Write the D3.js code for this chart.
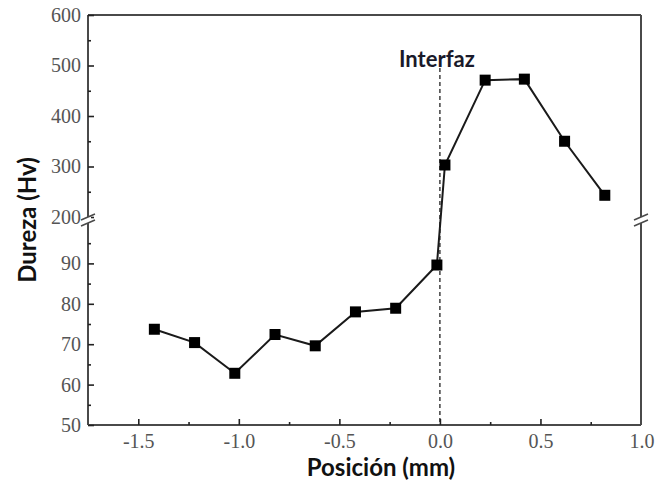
<!DOCTYPE html>
<html><head><meta charset="utf-8">
<script src="https://cdn.jsdelivr.net/npm/d3@7"></script>
<style>body{margin:0;background:#fff}
.tk{font-family:"Liberation Serif","DejaVu Serif",serif;font-size:20px;fill:#555}
.ttl{font-family:Lato,"Open Sans",sans-serif;font-weight:bold;fill:#111}
</style>
</head><body>
<svg id="c" width="657" height="481"></svg>
<script>
const positions = [-1.42, -1.22, -1.02, -0.82, -0.62, -0.42, -0.22, -0.015, 0.025, 0.225, 0.42, 0.62, 0.82];
const hardness  = [73.7, 70.4, 62.8, 72.4, 69.6, 78.0, 78.9, 89.6, 303, 471, 473, 350, 243];
const xMajorTicks = [-1.5, -1.0, -0.5, 0.0, 0.5, 1.0];
const xMinorTicks = [-1.25, -0.75, -0.25, 0.25, 0.75];
const yMajorTicks = [50, 60, 70, 80, 90, 200, 300, 400, 500, 600];
const yMinorTicks = [55, 65, 75, 85, 95, 250, 350, 450, 550];
const xTitle = "Posición (mm)";
const yTitle = "Dureza (Hv)";
const interfaceLabel = "Interfaz";

const svg = d3.select("#c");
const L = 88, R = 641, T = 15, B = 425;
const x = d3.scaleLinear().domain([-1.75, 1.0]).range([L, R]);
// broken axis: lower segment 50-100, upper segment 200-600
const y = d3.scaleLinear().domain([50, 100, 200, 600]).range([B, 223, 217, T]);
const axisCol = "#4a4a4a";
const fmtX = v => d3.format(".1f")(v).replace("\u2212", "-");

// frame
const g = svg.append("g");
g.append("line").attr("x1", L).attr("x2", R).attr("y1", T).attr("y2", T);
g.append("line").attr("x1", L).attr("x2", R).attr("y1", B).attr("y2", B);
g.append("line").attr("x1", L).attr("x2", L).attr("y1", T).attr("y2", B);
g.append("line").attr("x1", R).attr("x2", R).attr("y1", T).attr("y2", B);
g.selectAll("line").attr("stroke", axisCol).attr("stroke-width", 2);

// x axis ticks (inward)
const xAxis = d3.axisBottom(x).tickValues(xMajorTicks.filter(v => v < 1.0)).tickSizeInner(-6).tickSizeOuter(0).tickFormat(fmtX);
const xg = svg.append("g").attr("transform", `translate(0,${B})`).call(xAxis).attr("font-family", null).attr("font-size", null);
xg.select(".domain").remove();
xg.selectAll(".tick line").attr("stroke", "#222").attr("stroke-width", 1.6);
xg.selectAll(".tick text").attr("dy", 0).attr("y", 23).attr("class", "tk").attr("fill", null);
const xMin = d3.axisBottom(x).tickValues(xMinorTicks).tickSizeInner(-3).tickSizeOuter(0).tickFormat("");
const xmg = svg.append("g").attr("transform", `translate(0,${B})`).call(xMin);
xmg.select(".domain").remove();
xmg.selectAll(".tick line").attr("stroke", "#222").attr("stroke-width", 1.6);
// 1.0 label at right edge
svg.append("text").attr("x", x(1.0) + 1).attr("y", B + 23).attr("text-anchor", "middle")
  .attr("class", "tk").text(fmtX(1.0));

// y axis ticks (inward)
const yAxis = d3.axisLeft(y).tickValues(yMajorTicks).tickSizeInner(-6).tickSizeOuter(0).tickFormat(d3.format("d"));
const yg = svg.append("g").attr("transform", `translate(${L},0)`).call(yAxis).attr("font-family", null).attr("font-size", null);
yg.select(".domain").remove();
yg.selectAll(".tick line").attr("stroke", "#222").attr("stroke-width", 1.6);
yg.selectAll(".tick text").attr("x", -7).attr("class", "tk").attr("fill", null);
const yMin = d3.axisLeft(y).tickValues(yMinorTicks).tickSizeInner(-3).tickSizeOuter(0).tickFormat("");
const ymg = svg.append("g").attr("transform", `translate(${L},0)`).call(yMin);
ymg.select(".domain").remove();
ymg.selectAll(".tick line").attr("stroke", "#222").attr("stroke-width", 1.6);

// break marks
const brY = (y(100) + y(200)) / 2;
[L, R].forEach(px => {
  const bg = svg.append("g");
  bg.append("rect").attr("x", px - 3).attr("y", brY - 3).attr("width", 6).attr("height", 6).attr("fill", "#fff");
  [-3, 3].forEach(o => {
    bg.append("line").attr("x1", px - 7).attr("y1", brY + o + 3).attr("x2", px + 7).attr("y2", brY + o - 3)
      .attr("stroke", axisCol).attr("stroke-width", 1.5);
  });
});

// interface dashed line
svg.append("line").attr("x1", x(0)).attr("x2", x(0)).attr("y1", 68).attr("y2", B)
  .attr("stroke", "#222").attr("stroke-width", 1.3).attr("stroke-dasharray", "4,3");
svg.append("text").attr("x", x(0) - 3).attr("y", 67).attr("text-anchor", "middle")
  .attr("class", "ttl").attr("font-size", 22).style("fill", "#1a1a2a").text(interfaceLabel);

// data line + markers
const data = positions.map((p, i) => ({p, v: hardness[i]}));
svg.append("path").datum(data)
  .attr("d", d3.line().x(d => x(d.p)).y(d => y(d.v)))
  .attr("fill", "none").attr("stroke", "#1a1a1a").attr("stroke-width", 2);
const s = 11;
svg.selectAll(".pt").data(data).join("rect").attr("class", "pt")
  .attr("x", d => x(d.p) - s / 2).attr("y", d => y(d.v) - s / 2)
  .attr("width", s).attr("height", s).attr("fill", "#000");

// titles
svg.append("text").attr("x", 381).attr("y", 476).attr("text-anchor", "middle")
  .attr("class", "ttl").attr("font-size", 24).text(xTitle);
svg.append("text").attr("transform", "translate(36,220) rotate(-90)").attr("text-anchor", "middle")
  .attr("class", "ttl").attr("font-size", 24).text(yTitle);
</script>
</body></html>
